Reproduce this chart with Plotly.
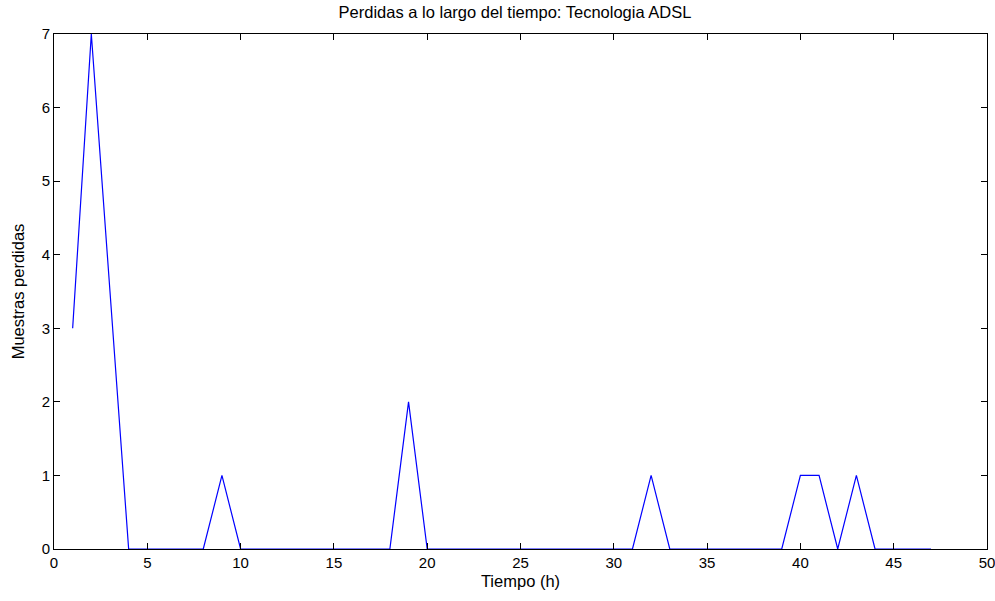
import plotly.graph_objects as go

# datos
tiempo = list(range(1, 48))
perdidas = [3, 7, 3.5, 0, 0, 0, 0, 0, 1, 0,
            0, 0, 0, 0, 0, 0, 0, 0, 2, 0,
            0, 0, 0, 0, 0, 0, 0, 0, 0, 0,
            0, 1, 0, 0, 0, 0, 0, 0, 0, 1,
            1, 0, 1, 0, 0, 0, 0]
x_ticks = list(range(0, 51, 5))
y_ticks = list(range(0, 8))

fig = go.Figure()
fig.add_trace(go.Scatter(x=tiempo, y=perdidas, mode="lines",
                         line=dict(color="#0000ff", width=1.2)))

eje = dict(showgrid=False, zeroline=False, showline=True, linecolor="black",
           linewidth=1, mirror="allticks", ticks="inside", ticklen=6,
           tickcolor="black", automargin=False, ticklabeloverflow="allow",
           tickfont=dict(family="Liberation Sans, Arial", size=15, color="black"))

fig.update_layout(
    width=995, height=601,
    plot_bgcolor="white", paper_bgcolor="white",
    font=dict(family="Liberation Sans, Arial", size=16, color="black"),
    margin=dict(l=54, r=8, t=34, b=52),
    showlegend=False,
    title=dict(text="Perdidas a lo largo del tiempo: Tecnologia ADSL",
               x=0.5176, xanchor="center", yref="container", y=0.98, yanchor="middle",
               font=dict(size=16.5)),
    xaxis=dict(eje, range=[0, 50], tickvals=x_ticks,
               title=dict(text="Tiempo (h)", standoff=5, font=dict(size=16.5))),
    yaxis=dict(eje, range=[0, 7], tickvals=y_ticks,
               title=dict(text="Muestras perdidas", standoff=12, font=dict(size=16.5))),
)

# quitar el margen del body para que la figura empiece en (0, 0)
fig.write_html("out.html", config={"displayModeBar": False},
               post_script="document.body.style.margin='0px';")
